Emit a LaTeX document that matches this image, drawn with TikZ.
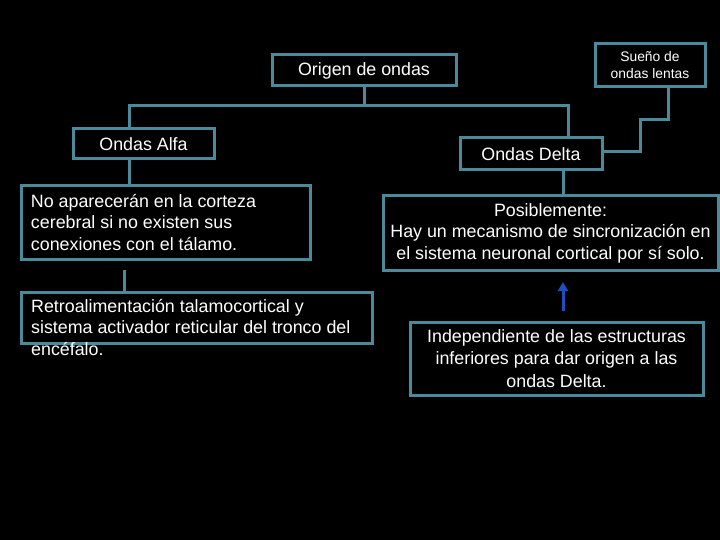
\documentclass[tikz,border=0pt]{standalone}
\usepackage{fontspec}
\setmainfont{Liberation Sans}
\usetikzlibrary{arrows.meta}
\definecolor{bord}{HTML}{4A8A9A}
\definecolor{arrblue}{HTML}{1E4FC0}
\begin{document}
\begin{tikzpicture}[x=1bp,y=-1bp,
  box/.style={draw=bord, line width=3bp, fill=black, text=white, inner sep=0pt,
    font=\fontsize{17.9}{21.5}\selectfont},
  conn/.style={draw=bord, line width=3bp},
  arr/.style={draw=arrblue, line width=3bp, -{Triangle[width=10bp,length=9bp]}}]
\fill[black] (0,0) rectangle (720,540);
\useasboundingbox (0,0) rectangle (720,540);
% boxes
\node[box, minimum width=184bp, minimum height=31bp] (origen) at (364,70.5) {Origen de ondas};
\node[box, minimum width=110bp, minimum height=43bp, align=center,
  font=\fontsize{13.9}{17}\selectfont] (sueno) at (650,65.5) {Sueño de\\ondas lentas};
\node[box, minimum width=142bp, minimum height=32bp] (delta) at (531,154) {Ondas Delta};
\node[box, minimum width=141bp, minimum height=30bp] (alfa) at (143.5,144) {Ondas Alfa};
\node[box, minimum width=288bp, minimum height=73bp, text width=270bp, align=flush left, inner xsep=9bp] (noap) at (166,222.5)
  {No aparecerán en la corteza\\cerebral si no existen sus\\conexiones con el tálamo.};
\node[box, minimum width=350bp, minimum height=51bp] (retro) at (197,317.5) {};
\node[text=white, anchor=north west, inner sep=0pt, align=left,
  font=\fontsize{17.9}{21.5}\selectfont] (retrotxt) at (31,299)
  {Retroalimentación talamocortical y\\sistema activador reticular del tronco del\\encéfalo.};
\node[box, minimum width=335bp, minimum height=74bp, align=center] (posib) at (550.5,233)
  {Posiblemente:\\Hay un mecanismo de sincronización en\\el sistema neuronal cortical por sí solo.};
\node[box, minimum width=293bp, minimum height=73bp, align=center,
  font=\fontsize{17.9}{22.5}\selectfont] (indep) at (556.5,358.5)
  {Independiente de las estructuras\\inferiores para dar origen a las\\ondas Delta.};
% coordinates
\coordinate (hl) at (129,106);
\coordinate (hr) at (568,106);
\coordinate (rtop) at (124,270);
\coordinate (dx) at (563,0);
\coordinate (s1) at (668,120);
\coordinate (s2) at (640,120);
\coordinate (s3) at (640,152);
\coordinate (a1) at (563,311);
\coordinate (a2) at (563,282);
% connectors
\draw[conn] (origen.south) -- (origen.south |- hl);
\draw[conn] (alfa.north -| hl) -- (hl) -- (hr) -- (hr |- delta.north);
\draw[conn] (alfa.south -| hl) -- (noap.north -| hl);
\draw[conn] (rtop) -- (rtop |- retro.north);
\draw[conn] (delta.south -| dx) -- (posib.north -| dx);
\draw[conn] (sueno.south -| s1) -- (s1) -- (s2) -- (s3) -- (delta.east |- s3);
\draw[arr] (a1) -- (a2);
\end{tikzpicture}
\end{document}
